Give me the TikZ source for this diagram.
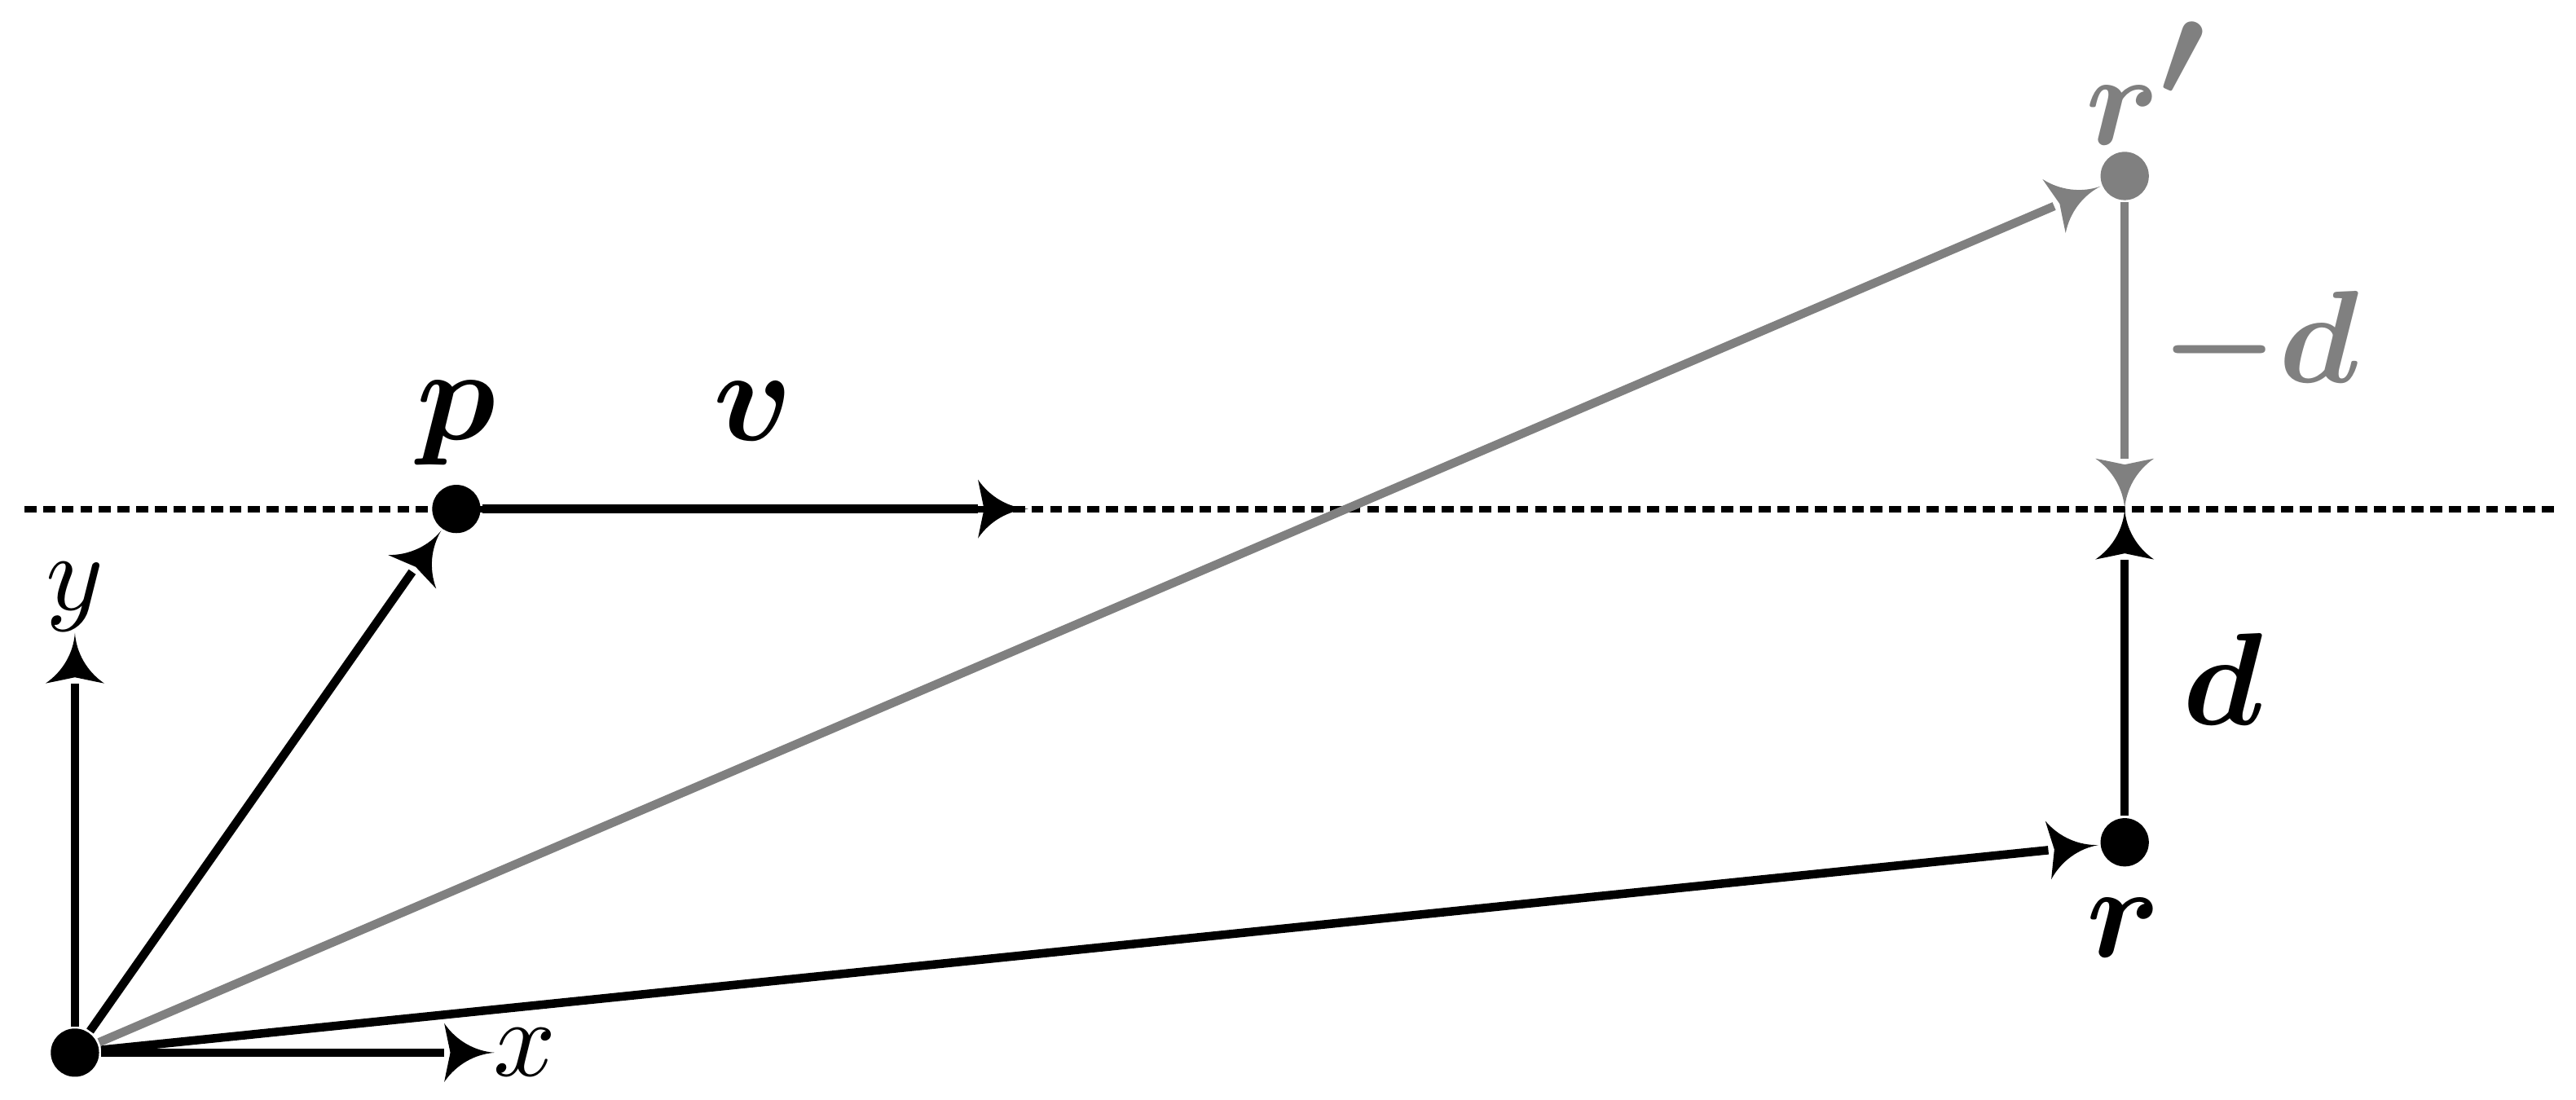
\documentclass[tikz,border=0pt]{standalone}
\usepackage{amsmath,amssymb}
\usepackage{xcolor}
\usepackage{tikz}
\usetikzlibrary{arrows}
\definecolor{vecgray}{rgb}{0.5, 0.5, 0.5}

\pgfarrowsdeclare{asy}{asy}
{
  \pgfarrowsleftextend{0pt}
  \pgfarrowsrightextend{4.6pt}
}
{
  \pgfpathmoveto{\pgfpoint{4.6pt}{0pt}}
  \pgfpathcurveto{\pgfpoint{2.8pt}{0.13pt}}{\pgfpoint{1.1pt}{1.07pt}}{\pgfpoint{0pt}{2.67pt}}
  \pgfpathcurveto{\pgfpoint{0.25pt}{1.4pt}}{\pgfpoint{0.45pt}{0.5pt}}{\pgfpoint{0.55pt}{0pt}}
  \pgfpathcurveto{\pgfpoint{0.45pt}{-0.5pt}}{\pgfpoint{0.25pt}{-1.4pt}}{\pgfpoint{0pt}{-2.67pt}}
  \pgfpathcurveto{\pgfpoint{1.1pt}{-1.07pt}}{\pgfpoint{2.8pt}{-0.13pt}}{\pgfpoint{4.6pt}{0pt}}
  \pgfusepathqfill
}

\tikzset{dotnode/.style={circle, fill, inner sep=0pt, minimum size=4.4pt},
  vec/.style={->, >=asy, line width=0.78pt}}

\begin{document}
\begin{tikzpicture}
      \useasboundingbox (-0.240,-0.151) rectangle (8.013,3.373);

      % the plane
      \coordinate (l1) at (-0.162,1.742);
      \coordinate (l2) at (7.961,1.742);
      \draw[line width=0.6pt, dash pattern=on 1.1pt off 0.6pt] (l1) -- (l2);

      \node[dotnode] (o) at (0,0) {};
      \node[dotnode] (p) at (1.222,1.742) {};
      \node[dotnode] (r) at (6.567,0.674) {};
      \node[dotnode, color=vecgray] (rp) at (6.567,2.809) {};
      \coordinate (xt) at (1.345,0);
      \coordinate (yt) at (0,1.345);
      \coordinate (vt) at (3.055,1.742);
      \coordinate (q) at (6.567,1.742);

      \draw[vec] (o) -- (xt);
      \draw[vec] (o) -- (yt);
      \draw[vec] (o) -- (p);
      \draw[vec] (o) -- (r);
      \draw[vec, color=vecgray] (o) -- (rp);
      \draw[vec] (p) -- (vt);
      \draw[vec] (r) -- (q);
      \draw[vec, color=vecgray] (rp) -- (q);

      \node at (1.44,0) {$x$};
      \node at (0,1.46) {$y$};
      \node at (1.222,2.016) {\large$\boldsymbol{p}$};
      \node at (2.172,2.055) {\large$\boldsymbol{v}$};
      \node at (6.564,0.399) {\large$\boldsymbol{r}$};
      \node at (6.882,1.198) {\large$\boldsymbol{d}$};
      \node[color=vecgray] at (6.632,3.105) {\large$\boldsymbol{r}\raisebox{4.5pt}{$\boldsymbol{\prime}$}$};
      \node[color=vecgray] at (7.000,2.266) {\large$\boldsymbol{-d}$};
\end{tikzpicture}
\end{document}
